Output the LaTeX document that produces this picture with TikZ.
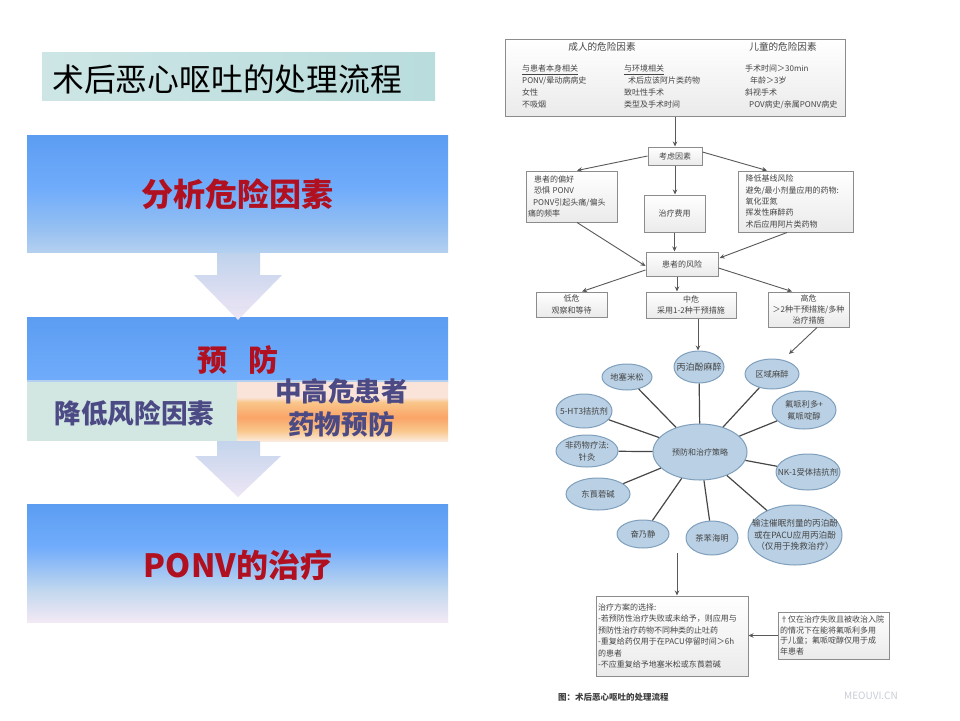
\documentclass[tikz,border=0pt]{standalone}
\usepackage{fontspec}
\setmainfont{Noto Sans CJK SC}
\usetikzlibrary{arrows.meta,shapes.geometric}
\definecolor{pa}{HTML}{5C9DF2}\definecolor{pb}{HTML}{70ACFB}\definecolor{pc}{HTML}{93BFF2}\definecolor{pd}{HTML}{B4D0F0}
\definecolor{qc}{HTML}{C3D8EE}\definecolor{qd}{HTML}{F3E9F5}
\definecolor{ra}{HTML}{FAE3D8}\definecolor{rb}{HTML}{F9C68A}\definecolor{rc}{HTML}{FBA468}\definecolor{rd}{HTML}{FBEADC}
\definecolor{ta}{HTML}{CDE5E5}\definecolor{tb}{HTML}{B9DCDC}
\definecolor{redtxt}{HTML}{B0101F}\definecolor{purtxt}{HTML}{4C4A84}
\definecolor{ln}{HTML}{8C8C8C}\definecolor{tx}{HTML}{444444}\definecolor{ov}{HTML}{BAD1E5}\definecolor{ovl}{HTML}{7F9FBC}
\pgfdeclareverticalshading{panelA}{100bp}{color(0bp)=(pd);color(25bp)=(pd);color(36bp)=(pc);color(52bp)=(pb);color(75bp)=(pa);color(100bp)=(pa)}
\pgfdeclareverticalshading{panelC}{100bp}{color(0bp)=(qd);color(25bp)=(qd);color(38bp)=(qc);color(57bp)=(pb);color(75bp)=(pa);color(100bp)=(pa)}
\pgfdeclareverticalshading{panelR}{100bp}{color(0bp)=(rd);color(25bp)=(rd);color(34bp)=(rb);color(45bp)=(rc);color(58bp)=(rb);color(62bp)=(ra);color(75bp)=(ra);color(100bp)=(ra)}
\tikzset{
  panel/.style={draw=none,minimum width=421pt,inner sep=0pt},
  tbox/.style={draw=ln,line width=1pt,top color=white,bottom color=black!8,text=tx,inner ysep=0pt,inner xsep=2pt,align=left,font=\fontsize{8}{11.4}\selectfont},
  cbox/.style={tbox,align=center,inner xsep=0pt},
  oval/.style={ellipse,draw=ovl,line width=1pt,fill=ov,inner sep=0pt},
  olab/.style={text=tx,align=center,font=\fontsize{8.3}{12}\selectfont},
  txt/.style={text=tx,inner sep=0pt,align=left,font=\fontsize{8}{11.7}\selectfont},
  arr/.style={draw=black!65,line width=.9pt,-{Stealth[length=5pt,width=4.5pt]}},
  spoke/.style={draw=black!72,line width=1.2pt},
  bigt/.style={text=redtxt,inner sep=0pt,font=\fontsize{32}{34}\bfseries\selectfont},
  midt/.style={text=purtxt,inner sep=0pt,align=center,font=\fontsize{26.6}{33}\bfseries\selectfont}
}
\begin{document}
\begin{tikzpicture}[x=1pt,y=-1pt]
\useasboundingbox (0,0) rectangle (960,720);
\fill[white] (0,0) rectangle (960,720);
% title
\node[draw=none,minimum width=393pt,minimum height=48pt,inner sep=0pt,left color=ta,right color=tb] (ttl) at (238.5,76) {};
\node[inner sep=0pt,anchor=west,font=\fontsize{31.8}{34}\selectfont] (ttlt) at (52,79) {术后恶心呕吐的处理流程};
% block arrows
\path[top color={rgb,255:red,190;green,210;blue,236},bottom color={rgb,255:red,240;green,230;blue,245}]
  (217,252) -- (260,252) -- (260,275) -- (282,275) -- (238,320) -- (194,275) -- (217,275) -- cycle;
% left panels
\node[panel,minimum height=117pt,shading=panelA] (p1) at (237.5,193.5) {};
\node[panel,minimum height=65pt,bottom color=pb,top color=pa] (p2) at (237.5,349.5) {};
\fill[pd] (p2.south west) rectangle ++(421,-2);
\node[draw=none,minimum width=210pt,minimum height=59pt,inner sep=0pt,fill={rgb,255:red,210;green,230;blue,226}] (p2l) at (132,411.5) {};
\node[draw=none,minimum width=211pt,minimum height=59pt,inner sep=0pt,shading=panelR] (p2r) at (342.5,411.5) {};
\node[panel,minimum height=118pt,shading=panelC] (p3) at (237.5,563) {};
\path[top color={rgb,255:red,195;green,212;blue,236},bottom color={rgb,255:red,238;green,230;blue,245}]
  (217,441) -- (260,441) -- (260,456) -- (281,456) -- (238,497) -- (195,456) -- (217,456) -- cycle;
\path[top color={rgb,255:red,225;green,225;blue,242},bottom color={rgb,255:red,240;green,230;blue,245}]
  (226,306) -- (250,306) -- (238,320) -- cycle;
\node[bigt] (t1) at (237.5,194) {分析危险因素};
\node[bigt,font=\fontsize{30}{32}\bfseries\selectfont] (t2) at (237.5,360) {预\hspace{21pt}防};
\node[midt] (t3) at (134.5,413) {降低风险因素};
\node[midt] (t4) at (341.5,407.5) {中高危患者\\药物预防};
\node[bigt] (t5) at (238,565) {PONV的治疗};
% top box
\node[tbox,minimum width=340pt,minimum height=77pt] (top) at (675,78) {};
\node[txt,font=\fontsize{9.6}{11}\selectfont] (h1) at (602,47) {成人的危险因素};
\node[txt,font=\fontsize{9.6}{11}\selectfont] (h2) at (783,47) {儿童的危险因素};
\node[txt,anchor=north west] (c1) at (522,65) {\underline{与患者本身相关}\\PONV/晕动病病史\\女性\\不吸烟};
\node[txt,anchor=north west] (c2) at (624,65) {\underline{与环境相关}\\\hspace{4pt}术后应该阿片类药物\\致吐性手术\\类型及手术时间};
\node[txt,anchor=north west] (c3) at (745,65) {手术时间＞30min\\\hspace{5pt}年龄＞3岁\\斜视手术\\\hspace{4pt}POV病史/亲属PONV病史};
% flow boxes
\node[cbox,minimum width=54pt,minimum height=18pt] (kl) at (675,156) {考虑因素};
\node[tbox,text width=87pt,minimum height=51pt] (lb) at (571.5,196.5) {\hspace{6pt}患者的偏好\\\hspace{6pt}恐惧 PONV\\\hspace{5pt}PONV引起头痛/偏头\\痛的频率};
\node[cbox,minimum width=61pt,minimum height=37pt] (fee) at (674.5,213.5) {治疗费用};
\node[tbox,text width=100pt,inner xsep=7.5pt,minimum height=61pt] (rb) at (795.5,201.5) {降低基线风险\\避免/最小剂量应用的药物:\\氧化亚氮\\挥发性麻醉药\\术后应用阿片类药物};
\node[cbox,minimum width=72pt,minimum height=24pt] (risk) at (682,264) {患者的风险};
\node[cbox,minimum width=71pt,minimum height=25pt] (low) at (571.5,304.5) {低危\\观察和等待};
\node[cbox,minimum width=90pt,minimum height=26pt] (mid) at (691,305) {中危\\采用1-2种干预措施};
\node[cbox,minimum width=81pt,minimum height=35pt] (high) at (808.5,309.5) {高危\\＞2种干预措施/多种\\治疗措施};
% ovals
\node[oval,minimum width=94pt,minimum height=56pt,label={[olab,font=\fontsize{8}{10}\selectfont]center:预防和治疗策略}] (c) at (700,452) {};
\node[oval,minimum width=50pt,minimum height=32pt,label={[olab,font=\fontsize{9}{10}\selectfont]center:丙泊酚麻醉}] (o1) at (699,367) {};
\node[oval,minimum width=50pt,minimum height=26pt,label={[olab]center:地塞米松}] (o2) at (627,377) {};
\node[oval,minimum width=54pt,minimum height=30pt,label={[olab]center:区域麻醉}] (o3) at (772,374) {};
\node[oval,minimum width=64pt,minimum height=38pt,label={[olab]center:{氟哌利多+\\氟哌啶醇}}] (o4) at (804,410) {};
\node[oval,minimum width=56pt,minimum height=34pt,label={[olab]center:5-HT3拮抗剂}] (o5) at (584,411) {};
\node[oval,minimum width=62pt,minimum height=32pt,label={[olab]center:{非药物疗法:\\针灸}}] (o6) at (587,451) {};
\node[oval,minimum width=64pt,minimum height=36pt,label={[olab]center:NK-1受体拮抗剂}] (o7) at (808,472) {};
\node[oval,minimum width=64pt,minimum height=32pt,label={[olab]center:东莨菪碱}] (o8) at (598,494) {};
\node[oval,minimum width=52pt,minimum height=28pt,label={[olab]center:奋乃静}] (o9) at (643,534) {};
\node[oval,minimum width=52pt,minimum height=34pt,label={[olab]center:茶苯海明}] (o10) at (712,538) {};
\node[oval,minimum width=94pt,minimum height=60pt,label={[olab,font=\fontsize{8.6}{11.5}\selectfont]center:{输注催眠剂量的丙泊酚\\或在PACU应用丙泊酚\\（仅用于挽救治疗）}}] (o11) at (795,535) {};
\foreach \o in {o1,o2,o3,o4,o5,o6,o7,o8,o9,o10,o11} \draw[spoke] (c) -- (\o);
% lower boxes
\node[tbox,text width=148pt,minimum height=80pt] (tr) at (672,636) {治疗方案的选择:\\-若预防性治疗失败或未给予，则应用与\\预防性治疗药物不同种类的止吐药\\-重复给药仅用于在PACU停留时间＞6h\\的患者\\-不应重复给予地塞米松或东莨菪碱};
\node[tbox,text width=107pt,minimum height=47pt,font=\fontsize{8}{10.8}\selectfont] (nt) at (833.5,635.5) {†仅在治疗失败且被收治入院\\的情况下在能将氟哌利多用\\于儿童；氟哌啶醇仅用于成\\年患者};
% flow connectors
\draw[arr] (top.south) -- (kl.north);
\draw[arr] (kl.west) -- ([xshift=5.5pt]lb.north);
\draw[arr] ([yshift=4pt]kl.east) -- ([xshift=-28.5pt]rb.north);
\draw[arr] (kl.south) -- (kl.south |- fee.north);
\draw[arr] (fee.south) -- (fee.south |- risk.north);
\draw[arr] ([xshift=5.5pt]lb.south) -- ([yshift=-2pt]risk.west);
\draw[arr] ([xshift=-8.5pt]rb.south) -- ([yshift=6pt,xshift=1pt]risk.east);
\draw[arr] ([yshift=-6pt]risk.west) -- ([xshift=10.5pt]low.north);
\draw[arr] ([xshift=-5pt]risk.south) -- ([xshift=-14pt]mid.north);
\draw[arr] ([yshift=-4pt]risk.east) -- ([xshift=-16.5pt]high.north);
\coordinate (mm) at ([xshift=7pt]mid.south);
\draw[arr] (mm) -- (mm |- o1.north);
\coordinate (hh) at (789,354);
\draw[arr] ([xshift=8.5pt]high.south) -- (hh);
\coordinate (cc) at (677,553);
\draw[arr] (cc) -- (cc |- tr.north);
\draw[arr] (nt.west) -- (tr.east |- nt.west);
% caption
\node[txt,anchor=west,text=black!75,font=\fontsize{8.5}{10}\bfseries\selectfont] (cap) at (558,697) {图：术后恶心呕吐的处理流程};
\node[inner sep=0pt,text={rgb,255:red,200;green,205;blue,214},font=\fontsize{10}{11}\selectfont] (wm) at (871,696) {MEOUVI.CN};
\end{tikzpicture}
\end{document}
